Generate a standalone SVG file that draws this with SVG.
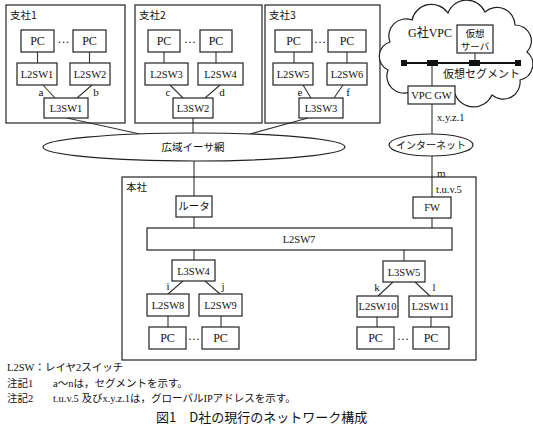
<svg xmlns="http://www.w3.org/2000/svg" width="533" height="440" viewBox="0 0 533 440">
<style>
.bg{fill:#fff}
.box{fill:#fff;stroke:#222;stroke-width:1.2}
.frame{fill:none;stroke:#222;stroke-width:1.2}
.ln{stroke:#333;stroke-width:1.1;fill:none}
.seg{stroke:#111;stroke-width:2}
.sq{fill:#111}
text{font-family:"Liberation Serif","Noto Sans CJK JP",serif;fill:#111}
.c{text-anchor:middle;font-size:12px}
.s{text-anchor:middle;font-size:10.5px}
.j{font-family:"Noto Sans CJK JP",sans-serif;font-size:10.5px}
.jc{font-family:"Noto Sans CJK JP",sans-serif;font-size:10.5px;text-anchor:middle}
.lb{font-size:11px;text-anchor:middle}
.n{font-size:10.5px}
</style>
<rect class="bg" x="0" y="0" width="533" height="440"/>

<g id="connectors">
  <!-- branch 1 -->
  <line class="ln" x1="37.5" y1="52" x2="37.5" y2="63"/>
  <line class="ln" x1="89.5" y1="52" x2="89.5" y2="63"/>
  <line class="ln" x1="43" y1="85" x2="55" y2="98"/>
  <line class="ln" x1="92" y1="85" x2="77" y2="98"/>
  <!-- branch 2 -->
  <line class="ln" x1="164" y1="52" x2="164" y2="63"/>
  <line class="ln" x1="216" y1="52" x2="216" y2="63"/>
  <line class="ln" x1="170" y1="85" x2="183" y2="98"/>
  <line class="ln" x1="220" y1="85" x2="205" y2="98"/>
  <!-- branch 3 -->
  <line class="ln" x1="294" y1="52" x2="294" y2="63"/>
  <line class="ln" x1="347" y1="52" x2="347" y2="63"/>
  <line class="ln" x1="303" y1="85" x2="311" y2="98"/>
  <line class="ln" x1="343" y1="85" x2="334" y2="98"/>
  <!-- to WAN -->
  <line class="ln" x1="67" y1="118" x2="140" y2="134"/>
  <line class="ln" x1="193" y1="118" x2="193" y2="133"/>
  <line class="ln" x1="308" y1="118" x2="250" y2="134"/>
  <!-- VPC -->
  <line class="ln" x1="432" y1="104" x2="432" y2="134"/>
  <line class="ln" x1="432" y1="156" x2="432" y2="197"/>
  <!-- HQ -->
  <line class="ln" x1="194" y1="161" x2="194" y2="196"/>
  <line class="ln" x1="194" y1="217" x2="194" y2="228"/>
  <line class="ln" x1="432" y1="218" x2="432" y2="228"/>
  <line class="ln" x1="194" y1="250" x2="194" y2="260"/>
  <line class="ln" x1="404" y1="250" x2="404" y2="261"/>
  <line class="ln" x1="183" y1="281" x2="168" y2="294"/>
  <line class="ln" x1="205" y1="281" x2="220" y2="294"/>
  <line class="ln" x1="393" y1="282" x2="378" y2="296"/>
  <line class="ln" x1="415" y1="282" x2="430" y2="296"/>
  <line class="ln" x1="168" y1="316" x2="168" y2="327"/>
  <line class="ln" x1="221" y1="316" x2="221" y2="327"/>
  <line class="ln" x1="377" y1="317" x2="377" y2="327"/>
  <line class="ln" x1="431" y1="317" x2="431" y2="327"/>
  <!-- segment labels -->
  <text class="lb" x="41" y="96">a</text>
  <text class="lb" x="96" y="96">b</text>
  <text class="lb" x="168" y="96">c</text>
  <text class="lb" x="222" y="96">d</text>
  <text class="lb" x="300" y="96">e</text>
  <text class="lb" x="348" y="96">f</text>
  <text class="lb" x="260" y="152">g</text>
  <text class="lb" x="353" y="244">h</text>
  <text class="lb" x="168" y="290">i</text>
  <text class="lb" x="223" y="290">j</text>
  <text class="lb" x="377" y="291">k</text>
  <text class="lb" x="434" y="291">l</text>
  <text class="lb" x="437" y="177" style="text-anchor:start">m</text>
  <text class="lb" x="418" y="58">n</text>
  <text class="n" x="437" y="121">x.y.z.1</text>
  <text class="n" x="436" y="193">t.u.v.5</text>
</g>

<g id="branch1">
  <rect class="frame" x="6" y="5" width="119" height="118"/>
  <text class="j" x="10" y="19">支社1</text>
  <rect class="box" x="21" y="30" width="33" height="22"/><text class="c" x="37.5" y="45">PC</text>
  <text class="c" x="63.5" y="43">…</text>
  <rect class="box" x="73" y="30" width="33" height="22"/><text class="c" x="89.5" y="45">PC</text>
  <rect class="box" x="17" y="63" width="40" height="22"/><text class="s" x="37" y="78">L2SW1</text>
  <rect class="box" x="70" y="63" width="40" height="22"/><text class="s" x="90" y="78">L2SW2</text>
  <rect class="box" x="44" y="98" width="44" height="20"/><text class="s" x="66" y="112">L3SW1</text>
</g>

<g id="branch2">
  <rect class="frame" x="135" y="5" width="127" height="118"/>
  <text class="j" x="139" y="19">支社2</text>
  <rect class="box" x="148" y="30" width="32" height="22"/><text class="c" x="164" y="45">PC</text>
  <text class="c" x="190" y="43">…</text>
  <rect class="box" x="200" y="30" width="32" height="22"/><text class="c" x="216" y="45">PC</text>
  <rect class="box" x="145" y="63" width="43" height="22"/><text class="s" x="166.5" y="78">L2SW3</text>
  <rect class="box" x="198" y="63" width="45" height="22"/><text class="s" x="220.5" y="78">L2SW4</text>
  <rect class="box" x="173" y="98" width="40" height="20"/><text class="s" x="193" y="112">L3SW2</text>
</g>

<g id="branch3">
  <rect class="frame" x="265" y="5" width="115" height="118"/>
  <text class="j" x="269" y="19">支社3</text>
  <rect class="box" x="275" y="30" width="37" height="22"/><text class="c" x="293.5" y="45">PC</text>
  <text class="c" x="320" y="43">…</text>
  <rect class="box" x="328" y="30" width="38" height="22"/><text class="c" x="347" y="45">PC</text>
  <rect class="box" x="273" y="63" width="40" height="22"/><text class="s" x="293" y="78">L2SW5</text>
  <rect class="box" x="327" y="63" width="40" height="22"/><text class="s" x="347" y="78">L2SW6</text>
  <rect class="box" x="299" y="98" width="44" height="20"/><text class="s" x="321" y="112">L3SW3</text>
</g>

<g id="wan">
  <ellipse class="box" cx="194" cy="147" rx="151" ry="14"/>
  <text class="jc" x="193" y="151">広域イーサ網</text>
</g>

<g id="vpc">
  <path class="box" d="M410,92 A17,17 0 0 1 388,70 A15,15 0 0 1 390,42 A17,17 0 0 1 412,20 A20,20 0 0 1 448,13 A20,20 0 0 1 485,12 A18,18 0 0 1 515,25 A16,16 0 0 1 527,52 A16,16 0 0 1 520,80 A17,17 0 0 1 492,95 A20,20 0 0 1 455,94 Z"/>
  <text x="408" y="37" style="font-size:12px">G社VPC</text>
  <rect class="box" x="457" y="25" width="36" height="28"/>
  <text class="jc" x="475" y="36.5" style="font-size:9.5px">仮想</text>
  <text class="jc" x="475" y="50" style="font-size:9.5px">サーバ</text>
  <line class="seg" x1="404" y1="63" x2="518" y2="63"/>
  <rect class="sq" x="401" y="60" width="6" height="6"/>
  <rect class="sq" x="515" y="60" width="6" height="6"/>
  <rect class="sq" x="427" y="60" width="11" height="6"/>
  <rect class="sq" x="469" y="60" width="11" height="6"/>
  <text class="j" x="443" y="78" style="font-size:11px">仮想セグメント</text>
  <line class="ln" x1="475" y1="53" x2="475" y2="60"/>
  <line class="ln" x1="432" y1="66" x2="432" y2="86"/>
</g>

<g id="vpcgw">
  <rect class="box" x="408" y="86" width="47" height="18"/>
  <text class="s" x="431.5" y="99">VPC GW</text>
</g>

<g id="internet">
  <ellipse class="box" cx="431" cy="145" rx="42" ry="11"/>
  <text class="jc" x="431" y="149" style="font-size:10px">インターネット</text>
</g>

<g id="hq">
  <rect class="frame" x="122" y="177" width="354" height="183"/>
  <text class="j" x="126" y="191">本社</text>
</g>

<g id="router">
  <rect class="box" x="176" y="196" width="36" height="21"/>
  <text class="jc" x="194" y="210">ルータ</text>
</g>
<g id="fw">
  <rect class="box" x="413" y="197" width="38" height="21"/>
  <text class="s" x="432" y="211">FW</text>
</g>
<g id="l2sw7">
  <rect class="box" x="147" y="228" width="305" height="22"/>
  <text class="s" x="299" y="243">L2SW7</text>
</g>
<g id="hq-left">
  <rect class="box" x="172" y="260" width="43" height="21"/><text class="s" x="193.5" y="275">L3SW4</text>
  <rect class="box" x="147" y="294" width="42" height="22"/><text class="s" x="168" y="309">L2SW8</text>
  <rect class="box" x="199" y="294" width="43" height="22"/><text class="s" x="220.5" y="309">L2SW9</text>
  <rect class="box" x="149" y="327" width="37" height="22"/><text class="c" x="167.5" y="342">PC</text>
  <text class="c" x="194" y="340">…</text>
  <rect class="box" x="202" y="327" width="37" height="22"/><text class="c" x="220.5" y="342">PC</text>
</g>
<g id="hq-right">
  <rect class="box" x="383" y="261" width="42" height="21"/><text class="s" x="404" y="276">L3SW5</text>
  <rect class="box" x="357" y="296" width="41" height="21"/><text class="s" x="377.5" y="310">L2SW10</text>
  <rect class="box" x="409" y="296" width="43" height="21"/><text class="s" x="430.5" y="310">L2SW11</text>
  <rect class="box" x="357" y="327" width="37" height="22"/><text class="c" x="375.5" y="342">PC</text>
  <text class="c" x="403" y="340">…</text>
  <rect class="box" x="413" y="327" width="36" height="22"/><text class="c" x="431" y="342">PC</text>
</g>

<g id="notes">
  <text class="n" x="7" y="371">L2SW：レイヤ2スイッチ</text>
  <text class="n" x="7" y="387">注記1</text>
  <text class="n" x="53" y="387">a～nは，セグメントを示す。</text>
  <text class="n" x="7" y="402">注記2</text>
  <text class="n" x="53" y="402">t.u.v.5 及びx.y.z.1は，グローバルIPアドレスを示す。</text>
  <text x="156" y="422" style="font-size:13px;font-family:'Noto Sans CJK JP',sans-serif">図1　D社の現行のネットワーク構成</text>
</g>
</svg>
